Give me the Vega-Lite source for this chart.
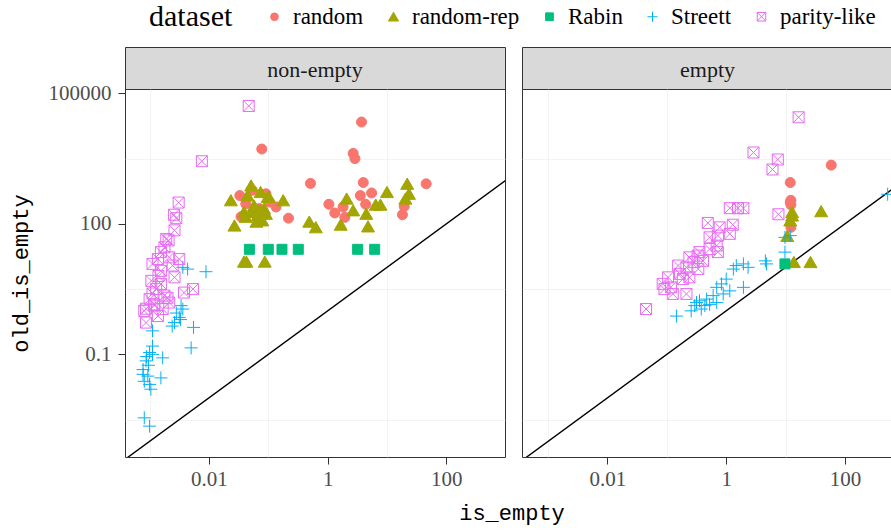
{
  "$schema": "https://vega.github.io/schema/vega-lite/v6.json",
  "padding": {"left": 8, "top": 5, "right": 0, "bottom": 5},
  "datasets": {
    "diag": [
      {"panel": "non-empty", "is_empty": 0.0001, "old_is_empty": 0.0001},
      {"panel": "non-empty", "is_empty": 10000, "old_is_empty": 10000},
      {"panel": "empty", "is_empty": 0.0001, "old_is_empty": 0.0001},
      {"panel": "empty", "is_empty": 10000, "old_is_empty": 10000}
    ],
    "pts": [
      {"panel": "non-empty", "dataset": "random", "is_empty": 3.72, "old_is_empty": 21900},
      {"panel": "non-empty", "dataset": "random", "is_empty": 0.0776, "old_is_empty": 5250},
      {"panel": "non-empty", "dataset": "random", "is_empty": 2.69, "old_is_empty": 4170},
      {"panel": "non-empty", "dataset": "random", "is_empty": 2.88, "old_is_empty": 3160},
      {"panel": "non-empty", "dataset": "random", "is_empty": 0.513, "old_is_empty": 851},
      {"panel": "non-empty", "dataset": "random", "is_empty": 3.98, "old_is_empty": 891},
      {"panel": "non-empty", "dataset": "random", "is_empty": 45.7, "old_is_empty": 832},
      {"panel": "non-empty", "dataset": "random", "is_empty": 0.0331, "old_is_empty": 447},
      {"panel": "non-empty", "dataset": "random", "is_empty": 3.55, "old_is_empty": 447},
      {"panel": "non-empty", "dataset": "random", "is_empty": 5.5, "old_is_empty": 513},
      {"panel": "non-empty", "dataset": "random", "is_empty": 1.05, "old_is_empty": 282},
      {"panel": "non-empty", "dataset": "random", "is_empty": 1.82, "old_is_empty": 245},
      {"panel": "non-empty", "dataset": "random", "is_empty": 4.37, "old_is_empty": 282},
      {"panel": "non-empty", "dataset": "random", "is_empty": 1.32, "old_is_empty": 178},
      {"panel": "non-empty", "dataset": "random", "is_empty": 1.95, "old_is_empty": 141},
      {"panel": "non-empty", "dataset": "random", "is_empty": 19.5, "old_is_empty": 251},
      {"panel": "non-empty", "dataset": "random", "is_empty": 18.2, "old_is_empty": 162},
      {"panel": "non-empty", "dataset": "random", "is_empty": 0.219, "old_is_empty": 135},
      {"panel": "non-empty", "dataset": "random", "is_empty": 0.135, "old_is_empty": 245},
      {"panel": "non-empty", "dataset": "random", "is_empty": 0.0347, "old_is_empty": 145},
      {"panel": "non-empty", "dataset": "random", "is_empty": 0.0537, "old_is_empty": 589},
      {"panel": "non-empty", "dataset": "random", "is_empty": 0.0417, "old_is_empty": 288},
      {"panel": "non-empty", "dataset": "random", "is_empty": 0.0617, "old_is_empty": 170},
      {"panel": "non-empty", "dataset": "random", "is_empty": 0.0912, "old_is_empty": 490},
      {"panel": "non-empty", "dataset": "random", "is_empty": 0.0708, "old_is_empty": 224},
      {"panel": "non-empty", "dataset": "random", "is_empty": 0.105, "old_is_empty": 316},
      {"panel": "non-empty", "dataset": "random-rep", "is_empty": 0.0513, "old_is_empty": 759},
      {"panel": "non-empty", "dataset": "random-rep", "is_empty": 0.0234, "old_is_empty": 347},
      {"panel": "non-empty", "dataset": "random-rep", "is_empty": 0.178, "old_is_empty": 347},
      {"panel": "non-empty", "dataset": "random-rep", "is_empty": 0.0741, "old_is_empty": 537},
      {"panel": "non-empty", "dataset": "random-rep", "is_empty": 0.0977, "old_is_empty": 417},
      {"panel": "non-empty", "dataset": "random-rep", "is_empty": 0.0447, "old_is_empty": 447},
      {"panel": "non-empty", "dataset": "random-rep", "is_empty": 0.0575, "old_is_empty": 263},
      {"panel": "non-empty", "dataset": "random-rep", "is_empty": 0.0851, "old_is_empty": 224},
      {"panel": "non-empty", "dataset": "random-rep", "is_empty": 0.0389, "old_is_empty": 186},
      {"panel": "non-empty", "dataset": "random-rep", "is_empty": 0.0661, "old_is_empty": 155},
      {"panel": "non-empty", "dataset": "random-rep", "is_empty": 0.0269, "old_is_empty": 91.2},
      {"panel": "non-empty", "dataset": "random-rep", "is_empty": 0.0794, "old_is_empty": 120},
      {"panel": "non-empty", "dataset": "random-rep", "is_empty": 0.49, "old_is_empty": 112},
      {"panel": "non-empty", "dataset": "random-rep", "is_empty": 0.631, "old_is_empty": 83.2},
      {"panel": "non-empty", "dataset": "random-rep", "is_empty": 2.09, "old_is_empty": 380},
      {"panel": "non-empty", "dataset": "random-rep", "is_empty": 2.69, "old_is_empty": 204},
      {"panel": "non-empty", "dataset": "random-rep", "is_empty": 1.66, "old_is_empty": 95.5},
      {"panel": "non-empty", "dataset": "random-rep", "is_empty": 4.47, "old_is_empty": 170},
      {"panel": "non-empty", "dataset": "random-rep", "is_empty": 4.79, "old_is_empty": 87.1},
      {"panel": "non-empty", "dataset": "random-rep", "is_empty": 6.46, "old_is_empty": 275},
      {"panel": "non-empty", "dataset": "random-rep", "is_empty": 7.76, "old_is_empty": 275},
      {"panel": "non-empty", "dataset": "random-rep", "is_empty": 10, "old_is_empty": 537},
      {"panel": "non-empty", "dataset": "random-rep", "is_empty": 21.9, "old_is_empty": 832},
      {"panel": "non-empty", "dataset": "random-rep", "is_empty": 23.4, "old_is_empty": 490},
      {"panel": "non-empty", "dataset": "random-rep", "is_empty": 20.4, "old_is_empty": 380},
      {"panel": "non-empty", "dataset": "random-rep", "is_empty": 0.0389, "old_is_empty": 13.5},
      {"panel": "non-empty", "dataset": "random-rep", "is_empty": 0.0427, "old_is_empty": 13.5},
      {"panel": "non-empty", "dataset": "random-rep", "is_empty": 0.0871, "old_is_empty": 13.5},
      {"panel": "non-empty", "dataset": "random-rep", "is_empty": 0.102, "old_is_empty": 417},
      {"panel": "non-empty", "dataset": "random-rep", "is_empty": 0.0708, "old_is_empty": 204},
      {"panel": "non-empty", "dataset": "random-rep", "is_empty": 0.0417, "old_is_empty": 145},
      {"panel": "non-empty", "dataset": "random-rep", "is_empty": 0.0513, "old_is_empty": 186},
      {"panel": "non-empty", "dataset": "random-rep", "is_empty": 0.0912, "old_is_empty": 170},
      {"panel": "non-empty", "dataset": "random-rep", "is_empty": 0.0631, "old_is_empty": 112},
      {"panel": "non-empty", "dataset": "Rabin", "is_empty": 0.048, "old_is_empty": 26},
      {"panel": "non-empty", "dataset": "Rabin", "is_empty": 0.1, "old_is_empty": 26},
      {"panel": "non-empty", "dataset": "Rabin", "is_empty": 0.17, "old_is_empty": 26},
      {"panel": "non-empty", "dataset": "Rabin", "is_empty": 0.32, "old_is_empty": 26},
      {"panel": "non-empty", "dataset": "Rabin", "is_empty": 3.2, "old_is_empty": 26},
      {"panel": "non-empty", "dataset": "Rabin", "is_empty": 6.2, "old_is_empty": 26},
      {"panel": "non-empty", "dataset": "Streett", "is_empty": 0.00891, "old_is_empty": 7.94},
      {"panel": "non-empty", "dataset": "Streett", "is_empty": 0.00363, "old_is_empty": 10},
      {"panel": "non-empty", "dataset": "Streett", "is_empty": 0.00437, "old_is_empty": 9.12},
      {"panel": "non-empty", "dataset": "Streett", "is_empty": 0.00112, "old_is_empty": 0.347},
      {"panel": "non-empty", "dataset": "Streett", "is_empty": 0.00263, "old_is_empty": 0.537},
      {"panel": "non-empty", "dataset": "Streett", "is_empty": 0.00316, "old_is_empty": 0.708},
      {"panel": "non-empty", "dataset": "Streett", "is_empty": 0.00339, "old_is_empty": 1.32},
      {"panel": "non-empty", "dataset": "Streett", "is_empty": 0.0055, "old_is_empty": 0.417},
      {"panel": "non-empty", "dataset": "Streett", "is_empty": 0.00501, "old_is_empty": 0.141},
      {"panel": "non-empty", "dataset": "Streett", "is_empty": 0.001, "old_is_empty": 0.11},
      {"panel": "non-empty", "dataset": "Streett", "is_empty": 0.000871, "old_is_empty": 0.0708},
      {"panel": "non-empty", "dataset": "Streett", "is_empty": 0.00166, "old_is_empty": 0.0832},
      {"panel": "non-empty", "dataset": "Streett", "is_empty": 0.000776, "old_is_empty": 0.0447},
      {"panel": "non-empty", "dataset": "Streett", "is_empty": 0.000933, "old_is_empty": 0.0316},
      {"panel": "non-empty", "dataset": "Streett", "is_empty": 0.00155, "old_is_empty": 0.0288},
      {"panel": "non-empty", "dataset": "Streett", "is_empty": 0.000813, "old_is_empty": 0.024},
      {"panel": "non-empty", "dataset": "Streett", "is_empty": 0.001, "old_is_empty": 0.0204},
      {"panel": "non-empty", "dataset": "Streett", "is_empty": 0.000813, "old_is_empty": 0.00347},
      {"panel": "non-empty", "dataset": "Streett", "is_empty": 0.001, "old_is_empty": 0.00224},
      {"panel": "non-empty", "dataset": "Streett", "is_empty": 0.00112, "old_is_empty": 0.1},
      {"panel": "non-empty", "dataset": "Streett", "is_empty": 0.000776, "old_is_empty": 0.0347},
      {"panel": "non-empty", "dataset": "Streett", "is_empty": 0.00363, "old_is_empty": 1.1},
      {"panel": "non-empty", "dataset": "Streett", "is_empty": 0.0024, "old_is_empty": 0.447},
      {"panel": "non-empty", "dataset": "Streett", "is_empty": 0.000955, "old_is_empty": 0.0562},
      {"panel": "non-empty", "dataset": "Streett", "is_empty": 0.00105, "old_is_empty": 0.0158},
      {"panel": "non-empty", "dataset": "Streett", "is_empty": 0.000891, "old_is_empty": 0.0891},
      {"panel": "non-empty", "dataset": "Streett", "is_empty": 0.00112, "old_is_empty": 0.155},
      {"panel": "non-empty", "dataset": "Streett", "is_empty": 0.00282, "old_is_empty": 0.891},
      {"panel": "non-empty", "dataset": "Streett", "is_empty": 0.00331, "old_is_empty": 0.631},
      {"panel": "non-empty", "dataset": "parity-like", "is_empty": 0.0468, "old_is_empty": 51300},
      {"panel": "non-empty", "dataset": "parity-like", "is_empty": 0.00759, "old_is_empty": 2750},
      {"panel": "non-empty", "dataset": "parity-like", "is_empty": 0.00309, "old_is_empty": 309},
      {"panel": "non-empty", "dataset": "parity-like", "is_empty": 0.00257, "old_is_empty": 162},
      {"panel": "non-empty", "dataset": "parity-like", "is_empty": 0.00282, "old_is_empty": 135},
      {"panel": "non-empty", "dataset": "parity-like", "is_empty": 0.00263, "old_is_empty": 70.8},
      {"panel": "non-empty", "dataset": "parity-like", "is_empty": 0.00191, "old_is_empty": 44.7},
      {"panel": "non-empty", "dataset": "parity-like", "is_empty": 0.00155, "old_is_empty": 22.4},
      {"panel": "non-empty", "dataset": "parity-like", "is_empty": 0.00214, "old_is_empty": 17},
      {"panel": "non-empty", "dataset": "parity-like", "is_empty": 0.00316, "old_is_empty": 15.5},
      {"panel": "non-empty", "dataset": "parity-like", "is_empty": 0.00112, "old_is_empty": 12},
      {"panel": "non-empty", "dataset": "parity-like", "is_empty": 0.00155, "old_is_empty": 8.32},
      {"panel": "non-empty", "dataset": "parity-like", "is_empty": 0.00263, "old_is_empty": 5.89},
      {"panel": "non-empty", "dataset": "parity-like", "is_empty": 0.00107, "old_is_empty": 4.9},
      {"panel": "non-empty", "dataset": "parity-like", "is_empty": 0.00155, "old_is_empty": 4.17},
      {"panel": "non-empty", "dataset": "parity-like", "is_empty": 0.00537, "old_is_empty": 3.16},
      {"panel": "non-empty", "dataset": "parity-like", "is_empty": 0.0038, "old_is_empty": 2.63},
      {"panel": "non-empty", "dataset": "parity-like", "is_empty": 0.00214, "old_is_empty": 1.55},
      {"panel": "non-empty", "dataset": "parity-like", "is_empty": 0.001, "old_is_empty": 1.86},
      {"panel": "non-empty", "dataset": "parity-like", "is_empty": 0.000813, "old_is_empty": 1.0},
      {"panel": "non-empty", "dataset": "parity-like", "is_empty": 0.0012, "old_is_empty": 1.41},
      {"panel": "non-empty", "dataset": "parity-like", "is_empty": 0.00178, "old_is_empty": 2.24},
      {"panel": "non-empty", "dataset": "parity-like", "is_empty": 0.00129, "old_is_empty": 3.16},
      {"panel": "non-empty", "dataset": "parity-like", "is_empty": 0.00245, "old_is_empty": 11},
      {"panel": "non-empty", "dataset": "parity-like", "is_empty": 0.00138, "old_is_empty": 15.5},
      {"panel": "non-empty", "dataset": "parity-like", "is_empty": 0.00178, "old_is_empty": 28.8},
      {"panel": "non-empty", "dataset": "parity-like", "is_empty": 0.00209, "old_is_empty": 41.7},
      {"panel": "non-empty", "dataset": "parity-like", "is_empty": 0.000871, "old_is_empty": 1.12},
      {"panel": "non-empty", "dataset": "parity-like", "is_empty": 0.0012, "old_is_empty": 1.32},
      {"panel": "non-empty", "dataset": "parity-like", "is_empty": 0.002, "old_is_empty": 2.0},
      {"panel": "non-empty", "dataset": "parity-like", "is_empty": 0.000871, "old_is_empty": 0.537},
      {"panel": "non-empty", "dataset": "parity-like", "is_empty": 0.00138, "old_is_empty": 0.759},
      {"panel": "non-empty", "dataset": "parity-like", "is_empty": 0.00166, "old_is_empty": 1.1},
      {"panel": "non-empty", "dataset": "parity-like", "is_empty": 0.00112, "old_is_empty": 2.51},
      {"panel": "non-empty", "dataset": "parity-like", "is_empty": 0.00141, "old_is_empty": 6.31},
      {"panel": "empty", "dataset": "random", "is_empty": 58.9, "old_is_empty": 2240},
      {"panel": "empty", "dataset": "random", "is_empty": 12, "old_is_empty": 891},
      {"panel": "empty", "dataset": "random", "is_empty": 12.3, "old_is_empty": 347},
      {"panel": "empty", "dataset": "random", "is_empty": 12.3, "old_is_empty": 275},
      {"panel": "empty", "dataset": "random", "is_empty": 12.3, "old_is_empty": 83.2},
      {"panel": "empty", "dataset": "random", "is_empty": 12, "old_is_empty": 316},
      {"panel": "empty", "dataset": "random-rep", "is_empty": 12.9, "old_is_empty": 186},
      {"panel": "empty", "dataset": "random-rep", "is_empty": 12, "old_is_empty": 120},
      {"panel": "empty", "dataset": "random-rep", "is_empty": 39.8, "old_is_empty": 195},
      {"panel": "empty", "dataset": "random-rep", "is_empty": 10.7, "old_is_empty": 52.5},
      {"panel": "empty", "dataset": "random-rep", "is_empty": 13.8, "old_is_empty": 13.2},
      {"panel": "empty", "dataset": "random-rep", "is_empty": 26.3, "old_is_empty": 13.2},
      {"panel": "empty", "dataset": "random-rep", "is_empty": 12.9, "old_is_empty": 155},
      {"panel": "empty", "dataset": "Rabin", "is_empty": 9.77, "old_is_empty": 12},
      {"panel": "empty", "dataset": "Streett", "is_empty": 525, "old_is_empty": 479},
      {"panel": "empty", "dataset": "Streett", "is_empty": 9.77, "old_is_empty": 49},
      {"panel": "empty", "dataset": "Streett", "is_empty": 12, "old_is_empty": 53.7},
      {"panel": "empty", "dataset": "Streett", "is_empty": 9.77, "old_is_empty": 22.4},
      {"panel": "empty", "dataset": "Streett", "is_empty": 4.57, "old_is_empty": 14.1},
      {"panel": "empty", "dataset": "Streett", "is_empty": 4.79, "old_is_empty": 12},
      {"panel": "empty", "dataset": "Streett", "is_empty": 1.95, "old_is_empty": 12},
      {"panel": "empty", "dataset": "Streett", "is_empty": 1.48, "old_is_empty": 11},
      {"panel": "empty", "dataset": "Streett", "is_empty": 2.34, "old_is_empty": 10},
      {"panel": "empty", "dataset": "Streett", "is_empty": 1.32, "old_is_empty": 9.12},
      {"panel": "empty", "dataset": "Streett", "is_empty": 1.0, "old_is_empty": 5.37},
      {"panel": "empty", "dataset": "Streett", "is_empty": 1.95, "old_is_empty": 3.47},
      {"panel": "empty", "dataset": "Streett", "is_empty": 0.832, "old_is_empty": 4.17},
      {"panel": "empty", "dataset": "Streett", "is_empty": 0.692, "old_is_empty": 3.47},
      {"panel": "empty", "dataset": "Streett", "is_empty": 1.15, "old_is_empty": 2.88},
      {"panel": "empty", "dataset": "Streett", "is_empty": 0.891, "old_is_empty": 2.45},
      {"panel": "empty", "dataset": "Streett", "is_empty": 0.603, "old_is_empty": 2.24},
      {"panel": "empty", "dataset": "Streett", "is_empty": 0.468, "old_is_empty": 1.86},
      {"panel": "empty", "dataset": "Streett", "is_empty": 0.355, "old_is_empty": 1.7},
      {"panel": "empty", "dataset": "Streett", "is_empty": 0.692, "old_is_empty": 1.55},
      {"panel": "empty", "dataset": "Streett", "is_empty": 0.525, "old_is_empty": 1.41},
      {"panel": "empty", "dataset": "Streett", "is_empty": 0.295, "old_is_empty": 1.32},
      {"panel": "empty", "dataset": "Streett", "is_empty": 0.38, "old_is_empty": 1.1},
      {"panel": "empty", "dataset": "Streett", "is_empty": 0.257, "old_is_empty": 1.0},
      {"panel": "empty", "dataset": "Streett", "is_empty": 0.145, "old_is_empty": 0.759},
      {"panel": "empty", "dataset": "Streett", "is_empty": 0.316, "old_is_empty": 1.55},
      {"panel": "empty", "dataset": "Streett", "is_empty": 0.437, "old_is_empty": 1.32},
      {"panel": "empty", "dataset": "parity-like", "is_empty": 16.6, "old_is_empty": 28200},
      {"panel": "empty", "dataset": "parity-like", "is_empty": 2.88, "old_is_empty": 4370},
      {"panel": "empty", "dataset": "parity-like", "is_empty": 7.41, "old_is_empty": 3020},
      {"panel": "empty", "dataset": "parity-like", "is_empty": 6.03, "old_is_empty": 1780},
      {"panel": "empty", "dataset": "parity-like", "is_empty": 1.15, "old_is_empty": 229},
      {"panel": "empty", "dataset": "parity-like", "is_empty": 1.58, "old_is_empty": 229},
      {"panel": "empty", "dataset": "parity-like", "is_empty": 1.95, "old_is_empty": 229},
      {"panel": "empty", "dataset": "parity-like", "is_empty": 7.59, "old_is_empty": 166},
      {"panel": "empty", "dataset": "parity-like", "is_empty": 0.49, "old_is_empty": 105},
      {"panel": "empty", "dataset": "parity-like", "is_empty": 0.776, "old_is_empty": 83.2},
      {"panel": "empty", "dataset": "parity-like", "is_empty": 1.29, "old_is_empty": 95.5},
      {"panel": "empty", "dataset": "parity-like", "is_empty": 1.15, "old_is_empty": 58.9},
      {"panel": "empty", "dataset": "parity-like", "is_empty": 0.525, "old_is_empty": 49},
      {"panel": "empty", "dataset": "parity-like", "is_empty": 0.724, "old_is_empty": 53.7},
      {"panel": "empty", "dataset": "parity-like", "is_empty": 0.692, "old_is_empty": 31.6},
      {"panel": "empty", "dataset": "parity-like", "is_empty": 0.525, "old_is_empty": 26.3},
      {"panel": "empty", "dataset": "parity-like", "is_empty": 0.724, "old_is_empty": 22.4},
      {"panel": "empty", "dataset": "parity-like", "is_empty": 0.355, "old_is_empty": 22.4},
      {"panel": "empty", "dataset": "parity-like", "is_empty": 0.24, "old_is_empty": 17},
      {"panel": "empty", "dataset": "parity-like", "is_empty": 0.331, "old_is_empty": 18.6},
      {"panel": "empty", "dataset": "parity-like", "is_empty": 0.407, "old_is_empty": 14.1},
      {"panel": "empty", "dataset": "parity-like", "is_empty": 0.155, "old_is_empty": 11},
      {"panel": "empty", "dataset": "parity-like", "is_empty": 0.214, "old_is_empty": 10},
      {"panel": "empty", "dataset": "parity-like", "is_empty": 0.339, "old_is_empty": 9.12},
      {"panel": "empty", "dataset": "parity-like", "is_empty": 0.166, "old_is_empty": 7.08},
      {"panel": "empty", "dataset": "parity-like", "is_empty": 0.105, "old_is_empty": 5.89},
      {"panel": "empty", "dataset": "parity-like", "is_empty": 0.186, "old_is_empty": 5.37},
      {"panel": "empty", "dataset": "parity-like", "is_empty": 0.24, "old_is_empty": 5.89},
      {"panel": "empty", "dataset": "parity-like", "is_empty": 0.0851, "old_is_empty": 4.17},
      {"panel": "empty", "dataset": "parity-like", "is_empty": 0.117, "old_is_empty": 3.47},
      {"panel": "empty", "dataset": "parity-like", "is_empty": 0.126, "old_is_empty": 2.45},
      {"panel": "empty", "dataset": "parity-like", "is_empty": 0.214, "old_is_empty": 2.45},
      {"panel": "empty", "dataset": "parity-like", "is_empty": 0.0447, "old_is_empty": 1.1},
      {"panel": "empty", "dataset": "parity-like", "is_empty": 0.0912, "old_is_empty": 3.16},
      {"panel": "empty", "dataset": "parity-like", "is_empty": 0.282, "old_is_empty": 13.2}
    ]
  },
  "hconcat": [
    {
      "spacing": 0,
      "bounds": "flush",
      "vconcat": [
        {
          "width": 380,
          "height": 42,
          "view": {"fill": "#D9D9D9", "stroke": "#333333", "strokeWidth": 1},
          "data": {"values": [{"strip": "non-empty"}]},
          "mark": {"type": "text", "font": "Liberation Serif", "fontSize": 22, "color": "#1A1A1A", "dy": 2},
          "encoding": {"text": {"field": "strip"}}
        },
        {
          "width": 380,
          "height": 368,
          "layer": [
            {
              "data": {"name": "diag"},
              "transform": [{"filter": "datum.panel == 'non-empty'"}],
              "mark": {"type": "line", "color": "black", "strokeWidth": 1.4, "clip": true},
              "encoding": {
                "x": {"field": "is_empty", "type": "quantitative",
                      "scale": {"type": "log", "domain": [0.000385, 973], "nice": false},
                      "axis": {"orient": "bottom", "values": [0.001, 0.1, 10], "labels": false, "ticks": false, "title": null, "gridWidth": 0.6}},
                "y": {"field": "old_is_empty", "type": "quantitative",
                      "scale": {"type": "log", "domain": [0.000437, 125900], "nice": false},
                      "axis": {"orient": "left", "values": [0.00316, 3.162, 3162], "labels": false, "ticks": false, "title": null, "gridWidth": 0.6}}
              }
            },
            {
              "data": {"name": "pts"},
              "transform": [{"filter": "datum.panel == 'non-empty'"}],
              "mark": {"type": "point", "opacity": 1, "strokeWidth": 1, "size": 100},
              "encoding": {
                "x": {"field": "is_empty", "type": "quantitative",
                      "scale": {"type": "log", "domain": [0.000385, 973], "nice": false},
                      "axis": {"orient": "bottom", "values": [0.01, 1, 100], "format": "~g", "title": null, "gridWidth": 1.2, "labelPadding": 4}},
                "y": {"field": "old_is_empty", "type": "quantitative",
                      "scale": {"type": "log", "domain": [0.000437, 125900], "nice": false},
                      "axis": {"orient": "left", "values": [0.1, 100, 100000], "format": "~g", "title": "old_is_empty", "gridWidth": 1.2, "labelPadding": 7}},
                "fill": {"field": "dataset", "type": "nominal", "title": "dataset",
                         "scale": {"domain": ["random", "random-rep", "Rabin", "Streett", "parity-like"],
                                   "range": ["#F8766D", "#A3A500", "#00BF7D", "transparent", "transparent"]}},
                "stroke": {"field": "dataset", "type": "nominal", "title": "dataset",
                           "scale": {"domain": ["random", "random-rep", "Rabin", "Streett", "parity-like"],
                                     "range": ["#F8766D", "#A3A500", "#00BF7D", "#00B0F6", "#E76BF3"]}},
                "shape": {"field": "dataset", "type": "nominal", "title": "dataset",
                          "scale": {"domain": ["random", "random-rep", "Rabin", "Streett", "parity-like"],
                                    "range": ["circle", "M0,-1.15L1.3,1.1L-1.3,1.1Z", "square", "M-1.3,0H1.3M0,-1.3V1.3", "M-1.1,-1.1H1.1V1.1H-1.1ZM-1.1,-1.1L1.1,1.1M-1.1,1.1L1.1,-1.1"]}}
              }
            }
          ],
          "resolve": {"axis": {"x": "independent", "y": "independent"}}
        }
      ]
    },
    {
      "spacing": 0,
      "bounds": "flush",
      "vconcat": [
        {
          "width": 371,
          "height": 42,
          "view": {"fill": "#D9D9D9", "stroke": "#333333", "strokeWidth": 1},
          "data": {"values": [{"strip": "empty"}]},
          "mark": {"type": "text", "font": "Liberation Serif", "fontSize": 22, "color": "#1A1A1A", "dy": 2},
          "encoding": {"text": {"field": "strip"}}
        },
        {
          "width": 371,
          "height": 368,
          "layer": [
            {
              "data": {"name": "diag"},
              "transform": [{"filter": "datum.panel == 'empty'"}],
              "mark": {"type": "line", "color": "black", "strokeWidth": 1.4, "clip": true},
              "encoding": {
                "x": {"field": "is_empty", "type": "quantitative",
                      "scale": {"type": "log", "domain": [0.000363, 646], "nice": false},
                      "axis": {"orient": "bottom", "values": [0.001, 0.1, 10], "labels": false, "ticks": false, "title": null, "gridWidth": 0.6}},
                "y": {"field": "old_is_empty", "type": "quantitative",
                      "scale": {"type": "log", "domain": [0.000437, 125900], "nice": false},
                      "axis": {"orient": "left", "values": [0.00316, 3.162, 3162], "labels": false, "ticks": false, "title": null, "gridWidth": 0.6}}
              }
            },
            {
              "data": {"name": "pts"},
              "transform": [{"filter": "datum.panel == 'empty'"}],
              "mark": {"type": "point", "opacity": 1, "strokeWidth": 1, "size": 100, "clip": true},
              "encoding": {
                "x": {"field": "is_empty", "type": "quantitative",
                      "scale": {"type": "log", "domain": [0.000363, 646], "nice": false},
                      "axis": {"orient": "bottom", "values": [0.01, 1, 100], "format": "~g", "title": null, "gridWidth": 1.2, "labelPadding": 4}},
                "y": {"field": "old_is_empty", "type": "quantitative",
                      "scale": {"type": "log", "domain": [0.000437, 125900], "nice": false},
                      "axis": {"orient": "left", "values": [0.1, 100, 100000], "labels": false, "ticks": false, "title": null, "gridWidth": 1.2}},
                "fill": {"field": "dataset", "type": "nominal", "title": "dataset",
                         "scale": {"domain": ["random", "random-rep", "Rabin", "Streett", "parity-like"],
                                   "range": ["#F8766D", "#A3A500", "#00BF7D", "transparent", "transparent"]}},
                "stroke": {"field": "dataset", "type": "nominal", "title": "dataset",
                           "scale": {"domain": ["random", "random-rep", "Rabin", "Streett", "parity-like"],
                                     "range": ["#F8766D", "#A3A500", "#00BF7D", "#00B0F6", "#E76BF3"]}},
                "shape": {"field": "dataset", "type": "nominal", "title": "dataset",
                          "scale": {"domain": ["random", "random-rep", "Rabin", "Streett", "parity-like"],
                                    "range": ["circle", "M0,-1.15L1.3,1.1L-1.3,1.1Z", "square", "M-1.3,0H1.3M0,-1.3V1.3", "M-1.1,-1.1H1.1V1.1H-1.1ZM-1.1,-1.1L1.1,1.1M-1.1,1.1L1.1,-1.1"]}}
              }
            }
          ],
          "resolve": {"axis": {"x": "independent", "y": "independent"}}
        }
      ]
    }
  ],
  "spacing": 15,
  "title": {"text": "is_empty", "orient": "bottom", "anchor": "middle", "font": "Liberation Mono", "fontSize": 22, "fontWeight": "normal", "color": "black", "offset": 13, "dx": 61},
  "config": {
    "font": "Liberation Serif",
    "view": {"stroke": "#333333", "strokeWidth": 1},
    "axis": {
      "domain": false,
      "gridColor": "#EBEBEB",
      "tickColor": "#333333",
      "tickSize": 7,
      "tickWidth": 1,
      "labelFont": "Liberation Serif",
      "labelFontSize": 21,
      "labelColor": "#4D4D4D",
      "titleFont": "Liberation Mono",
      "titleFontSize": 22,
      "titleFontWeight": "normal",
      "titleColor": "black",
      "titlePadding": 16
    },
    "legend": {
      "orient": "none",
      "legendX": 24,
      "legendY": -42,
      "direction": "horizontal",
      "titleOrient": "left",
      "titleFont": "Liberation Serif",
      "titleFontSize": 30,
      "titleFontWeight": "normal",
      "titleColor": "black",
      "titlePadding": 30,
      "labelFont": "Liberation Serif",
      "labelFontSize": 23,
      "labelColor": "black",
      "labelOffset": 7,
      "columnPadding": 18,
      "symbolSize": 60,
      "symbolStrokeWidth": 1
    }
  }
}
